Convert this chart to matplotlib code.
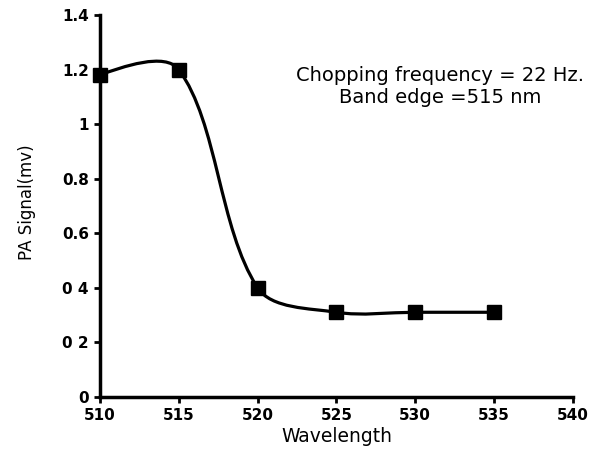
import numpy as np
import matplotlib
matplotlib.use("Agg")
import matplotlib.pyplot as plt
from matplotlib.path import Path
from matplotlib.patches import PathPatch

plt.rcParams['font.family'] = ['DejaVu Sans']

wavelength = [510, 515, 520, 525, 530, 535]
signal = [1.18, 1.20, 0.40, 0.31, 0.31, 0.31]
x_ticks = [510, 515, 520, 525, 530, 535, 540]
y_ticks = [0, 0.2, 0.4, 0.6, 0.8, 1.0, 1.2, 1.4]
y_tick_labels = ["0", "0 2", "0 4", "0.6", "0.8", "1", "1.2", "1.4"]

fig = plt.figure(figsize=(5.98, 4.53), dpi=100)
ax = fig.add_axes([0.167, 0.124, 0.791, 0.843])
ax.set_xlim(510, 540)
ax.set_ylim(0, 1.4)

# Smoothed line (chord-length weighted Bezier smoothing, like spreadsheet "smoothed line")
fig.canvas.draw()
data = np.column_stack([wavelength, signal]).astype(float)
disp = ax.transData.transform(data)
n = len(data)
verts = [tuple(data[0])]
codes = [Path.MOVETO]

def ctrl(i):
    """return (before, after) control points in data coords for point i"""
    p1 = data[i]
    if i == 0 or i == n - 1:
        return p1, p1
    p0, p2 = data[i - 1], data[i + 1]
    d01 = np.linalg.norm(disp[i] - disp[i - 1])
    d12 = np.linalg.norm(disp[i + 1] - disp[i])
    tvec = (p2 - p0) / 3.0
    before = p1 - tvec * d01 / (d01 + d12)
    after = p1 + tvec * d12 / (d01 + d12)
    return before, after

for i in range(n - 1):
    _, c1 = ctrl(i)
    c2, _ = ctrl(i + 1)
    if i == 0:
        c1 = data[0] + (c2 - data[0]) / 3.0
    if i + 1 == n - 1:
        c2 = data[n - 1] + (c1 - data[n - 1]) / 3.0
    verts += [tuple(c1), tuple(c2), tuple(data[i + 1])]
    codes += [Path.CURVE4] * 3
ax.add_patch(PathPatch(Path(verts, codes), fill=False, lw=2.3, color='black', zorder=2))
ax.plot(wavelength, signal, linestyle='none', marker='s', markersize=10,
        color='black', zorder=3, clip_on=False)

ax.set_xticks(x_ticks)
ax.set_yticks(y_ticks)
ax.set_yticklabels(y_tick_labels)
for s in ['top', 'right']:
    ax.spines[s].set_visible(False)
for s in ['left', 'bottom']:
    ax.spines[s].set_linewidth(2.5)
ax.tick_params(axis='both', direction='out', length=4, width=2, labelsize=11, pad=4)
for lab in ax.get_xticklabels() + ax.get_yticklabels():
    lab.set_fontweight('bold')

ax.set_xlabel("Wavelength", fontsize=13.5, labelpad=3)
ax.set_ylabel("PA Signal(mv)", fontsize=12, labelpad=24)
ax.yaxis.set_label_coords(-0.134, 0.51)

ax.text(531.6, 1.138, "Chopping frequency = 22 Hz.\nBand edge =515 nm", ha='center', va='center',
        fontsize=14, linespacing=1.2)

fig.savefig("out.png", dpi=100)
